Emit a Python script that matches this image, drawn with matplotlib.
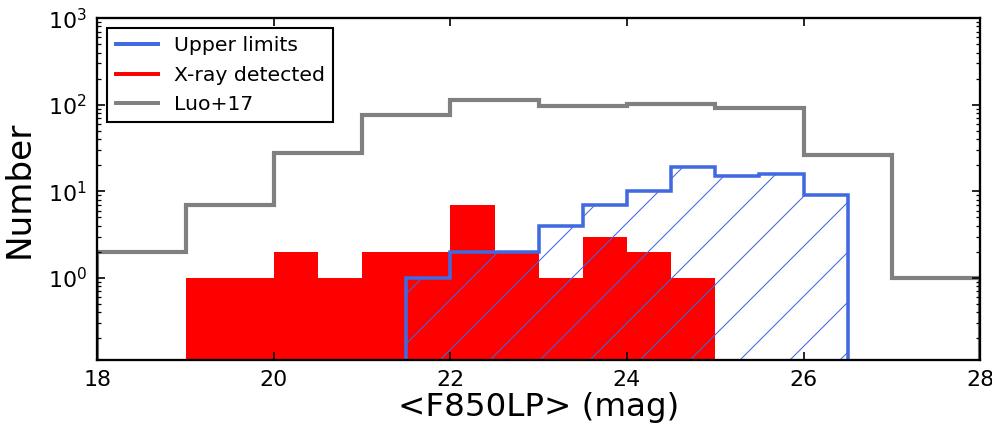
import matplotlib
matplotlib.use("Agg")
import matplotlib.pyplot as plt
from matplotlib.lines import Line2D
import numpy as np

# ── Histogram data (counts per bin) ──────────────────────────────────────────
det_edges = np.arange(19.0, 25.01, 0.5)
det_counts = [1, 1, 2, 1, 2, 2, 7, 2, 1, 3, 2, 1]          # X-ray detected

ul_edges = np.arange(21.5, 26.51, 0.5)
ul_counts = [1, 2, 2, 4, 7, 10, 19, 15, 16, 9]              # upper limits

luo_edges = np.arange(18.0, 28.01, 1.0)
luo_counts = [2, 7, 28, 76, 114, 97, 103, 91, 26, 1]        # Luo+17

labels = ["Upper limits", "X-ray detected", "Luo+17"]
colors = ["#4169E1", "#FF0000", "#808080"]

# ── Figure: high dpi so the hatch spacing matches the original ───────────────
DPI = 300
plt.rcParams["hatch.linewidth"] = 0.25
plt.rcParams["xtick.direction"] = "in"
plt.rcParams["ytick.direction"] = "in"

fig = plt.figure(figsize=(992 / DPI, 431 / DPI), dpi=DPI)
ax = fig.add_axes([0.098, 0.165, 0.890, 0.793])

base = 1e-3
ax.stairs(det_counts, det_edges, fill=True, color=colors[1],
          baseline=base, lw=0)
ax.stairs(ul_counts, ul_edges, fill=True, facecolor="none",
          edgecolor=colors[0], hatch="//", baseline=base, lw=0)
ax.stairs(ul_counts, ul_edges, color=colors[0], baseline=base, lw=0.85)
ax.stairs(luo_counts, luo_edges, color=colors[2], baseline=base, lw=1.0)

ax.set_yscale("log")
ax.set_xlim(18, 28)
ax.set_ylim(0.113, 1000)
ax.set_xticks([18, 20, 22, 24, 26, 28])
ax.tick_params(axis="both", which="major", labelsize=5.3, length=2.0,
               width=0.4, top=True, right=True, pad=2.5)
ax.tick_params(axis="y", which="minor", length=1.0, width=0.3, right=True)
ax.tick_params(axis="x", which="minor", bottom=False, top=False)
for sp in ax.spines.values():
    sp.set_linewidth(0.55)

ax.set_xlabel("<F850LP> (mag)", fontsize=7.8, labelpad=0.3)
ax.set_ylabel("Number", fontsize=8.2, labelpad=3)

handles = [Line2D([], [], color=c, lw=0.95) for c in colors]
leg = ax.legend(handles, labels, loc="upper left", fontsize=4.9,
                fancybox=False, framealpha=1, edgecolor="black",
                handlelength=2.1, handletextpad=0.75, borderaxespad=0.5,
                borderpad=0.4, labelspacing=0.5)
leg.get_frame().set_linewidth(0.5)

fig.savefig("out.png", dpi=DPI)
